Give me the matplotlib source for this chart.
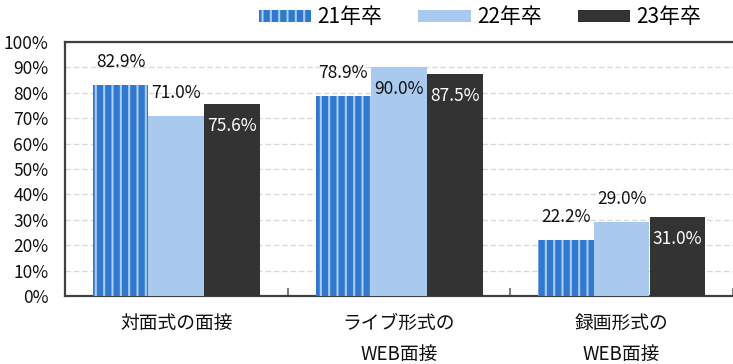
import matplotlib
matplotlib.use("Agg")
import matplotlib.pyplot as plt
import numpy as np

plt.rcParams['font.family'] = ['Noto Sans CJK JP', 'DejaVu Sans']
plt.rcParams['hatch.linewidth'] = 1.5

categories = ["対面式の面接", "ライブ形式の\nWEB面接", "録画形式の\nWEB面接"]
series_names = ["21年卒", "22年卒", "23年卒"]
values_21 = [82.9, 78.9, 22.2]
values_22 = [71.0, 90.0, 29.0]
values_23 = [75.6, 87.5, 31.0]
# whether each value label sits inside the bar (True) or above it (False)
inside_21 = [False, False, False]
inside_22 = [False, True, False]
inside_23 = [True, True, True]
yticks = [0, 10, 20, 30, 40, 50, 60, 70, 80, 90, 100]

colors = ["#3178d0", "#a9c9ee", "#333333"]
text_colors = ["#111111", "#111111", "#ffffff"]

W, H = 733, 364
fig = plt.figure(figsize=(W / 100, H / 100), dpi=100)
left, right, top, bottom = 65, 733, 42, 296
ax = fig.add_axes([left / W, 1 - bottom / H, (right - left) / W, (bottom - top) / H])

x = np.arange(len(categories))
width = 0.25
series = [values_21, values_22, values_23]
insides = [inside_21, inside_22, inside_23]
handles = []
for i, (vals, ins) in enumerate(zip(series, insides)):
    pos = x + (i - 1) * width
    if i == 0:
        bars = ax.bar(pos, vals, width, color=colors[i], edgecolor="#aacdf2",
                      hatch="||", linewidth=0, zorder=3, label=series_names[i])
    else:
        bars = ax.bar(pos, vals, width, color=colors[i], linewidth=0,
                      zorder=3, label=series_names[i])
    handles.append(bars)
    for b, v, inside in zip(bars, vals, ins):
        cx = b.get_x() + b.get_width() / 2
        if inside:
            ax.annotate(f"{v:.1f}%", (cx, v), xytext=(0, -22), textcoords="offset pixels",
                        ha="center", va="center", fontsize=12.5, color=text_colors[i], zorder=5)
        else:
            ax.annotate(f"{v:.1f}%", (cx, v), xytext=(0, 23), textcoords="offset pixels",
                        ha="center", va="center", fontsize=12.5, color="#111111", zorder=5)

ax.set_ylim(0, 100)
ax.set_xlim(-0.5, -0.5 + (right - left) / 224.5)
ax.set_yticks(yticks)
ax.set_yticklabels([f"{t}%" for t in yticks], fontsize=12.5, color="#111111")
ax.tick_params(axis="y", length=0, pad=12)

ax.set_xticks(x)
ax.set_xticklabels(categories, fontsize=13.5, color="#111111", linespacing=1.65, va="top")
ax.tick_params(axis="x", which="major", length=0, pad=12)
ax.set_xticks([0.5, 1.5, 2.5], minor=True)
ax.tick_params(axis="x", which="minor", direction="in", length=6, width=1.5, color="#808080")

ax.yaxis.grid(True, linestyle=(0, (4, 2)), color="#d9d9d9", linewidth=1, zorder=0)
ax.set_axisbelow(True)

for s in ["top", "left", "bottom"]:
    ax.spines[s].set_color("#404040")
    ax.spines[s].set_linewidth(1.6)
ax.spines["right"].set_visible(False)

fig.legend(handles=handles, labels=series_names, loc="center", bbox_to_anchor=(480 / W, 1 - 17 / H),
           ncol=3, frameon=False, fontsize=15, handlelength=2.5, handleheight=0.5,
           handletextpad=0.3, columnspacing=1.75, borderaxespad=0, borderpad=0)

fig.savefig("out.png", dpi=100)
